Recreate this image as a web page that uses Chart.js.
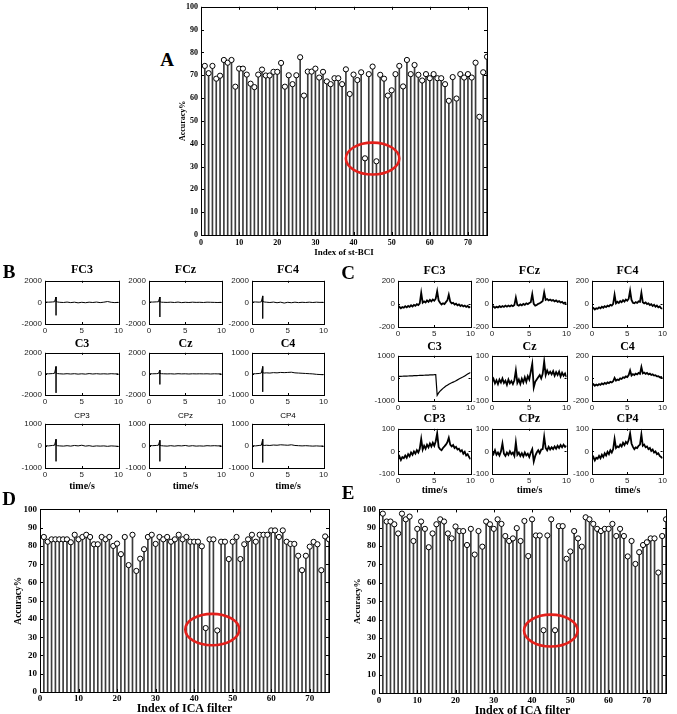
<!DOCTYPE html>
<html>
<head>
<meta charset="utf-8">
<script src="https://cdn.jsdelivr.net/npm/chart.js@4.4.0/dist/chart.umd.min.js"></script>
<style>
body { margin: 0; background: #fff; width: 677px; height: 714px; overflow: hidden; position: relative; }
canvas { position: absolute; }
.t { position: absolute; color: #000; white-space: nowrap; transform: translate(-50%, -50%); line-height: 1; }
</style>
</head>
<body>
<script>
// accuracy per index
const accA = [74.1,70.9,74.1,68.5,69.8,76.7,75.5,76.7,65.0,72.9,
  72.9,70.3,66.3,64.8,70.3,72.5,69.9,69.9,71.5,71.5,
  75.4,65.0,70.0,66.1,70.0,77.9,61.1,71.6,71.6,72.9,
  69.0,71.5,67.3,66.1,68.7,68.7,66.1,72.6,61.8,70.3,
  67.9,71.3,33.6,70.5,73.8,32.3,70.2,68.5,61.1,63.4,
  70.5,74.1,65.1,76.7,70.5,74.5,70.2,67.7,70.5,68.7,
  70.5,68.7,68.7,66.1,58.8,69.2,59.8,70.5,69.0,70.5,
  69.0,75.5,51.8,71.3,78.1];
const accD = [84.9,82.3,83.6,83.6,83.6,83.6,83.6,82.0,86.1,83.6,
  84.9,86.1,84.9,80.9,80.9,84.9,83.6,84.9,80.0,81.3,
  75.5,84.9,69.5,86.1,66.3,73.0,78.2,84.9,86.1,81.1,
  84.9,83.6,84.9,82.3,83.6,86.1,83.6,84.9,82.3,82.3,
  82.3,79.8,35.0,83.6,83.6,33.7,82.3,82.3,72.8,82.3,
  84.9,72.8,80.9,83.6,86.1,82.3,86.1,86.1,86.1,88.5,
  88.5,84.9,88.5,82.3,81.1,81.1,74.6,66.7,74.6,79.6,
  82.2,80.9,66.7,85.2,83.6];
const accE = [97.7,93.4,93.4,91.9,86.9,97.7,94.6,96.1,82.8,89.4,
  93.4,89.4,79.4,86.9,91.9,94.6,93.4,86.9,84.2,90.7,
  88.2,88.2,80.6,89.4,75.4,88.2,79.7,93.4,91.9,89.4,
  94.6,92.1,85.5,82.8,84.2,89.8,82.8,93.7,74.6,94.6,
  85.8,85.8,34.2,85.8,94.6,34.2,90.9,90.9,73.1,77.1,
  88.2,84.2,79.7,95.7,94.6,92.1,89.4,88.2,89.4,89.4,
  92.1,85.5,89.4,85.5,74.4,82.8,70.3,76.7,80.6,82.1,
  84.2,84.2,65.6,85.5,94.6];

// time axes (s)
const tB = [0,0.5,1,1.3,1.5,1.5,1.5,1.7,2,2.5,3,3.5,4,4.5,5,5.5,6,6.5,7,7.5,8,8.5,9,9.5,10];
const tC = [0,0.2,0.4,0.6,0.8,1,1.2,1.4,1.6,1.8,2,2.2,2.4,2.6,2.8,3,3.2,3.4,3.6,3.8,
  4,4.2,4.4,4.6,4.8,5,5.2,5.4,5.6,5.8,6,6.2,6.4,6.6,6.8,7,7.2,7.4,7.6,7.8,
  8,8.2,8.4,8.6,8.8,9,9.2,9.4,9.6,9.8,10];

const chans = ["FC3","FCz","FC4","C3","Cz","C4","CP3","CPz","CP4"];

// panel B: raw channels
const bFC3 = [30,20,40,60,500,-1200,80,40,10,-10,30,-20,20,-40,10,-30,20,-10,30,-20,20,80,10,-20,10];
const bFCz = [40,30,50,60,500,-1350,60,20,10,0,20,-10,30,-20,10,-10,20,0,10,-10,20,10,0,-10,10];
const bFC4 = [30,40,20,50,600,-1500,90,40,20,-10,30,-30,20,-60,10,-30,20,-20,10,-10,20,-10,20,0,10];
const bC3  = [20,10,30,60,700,-1800,90,30,10,-10,20,-10,20,-20,10,-20,30,-10,20,-10,10,-10,20,0,10];
const bCz  = [20,10,20,40,350,-1000,50,20,10,0,10,-10,20,0,10,-10,10,0,10,0,10,-10,10,0,10];
const bC4  = [0,10,20,40,350,-850,60,40,50,40,60,50,70,60,70,80,50,40,30,20,10,0,-20,-30,-40];
const bCP3 = [10,0,20,30,300,-700,40,10,0,-10,10,-10,20,0,30,-10,10,-20,0,-10,0,-20,0,-10,-20];
const bCPz = [20,10,20,30,250,-700,30,10,0,-10,10,-10,10,0,20,-10,10,-10,0,-10,10,0,10,0,10];
const bCP4 = [10,0,20,30,300,-750,40,20,30,20,40,30,50,40,30,50,20,10,0,10,0,-10,0,-10,0];
const limB = [2000,2000,2000,2000,2000,1000,1000,1000,1000];

// panel C: filtered channels
const cFC3 = [-35,-25,-38,-28,-33,-20,-30,-18,-26,-12,-22,-8,-16,-2,-10,5,95,10,22,12,30,18,35,22,38,28,45,110,30,10,-5,5,-2,15,30,80,20,5,10,-5,2,-12,-5,-18,-10,-22,-14,-26,-18,-30,-25];
const cFCz = [-30,-22,-34,-25,-30,-20,-28,-18,-26,-15,-24,-14,-22,-12,-20,-10,55,-8,-16,-4,-12,0,-8,5,-2,8,15,85,0,-15,-10,0,5,15,25,100,35,42,30,38,28,34,22,30,18,24,12,18,5,12,2];
const cFC4 = [-45,-35,-48,-38,-42,-30,-38,-25,-33,-20,-28,-15,-22,-8,-15,0,80,5,18,8,25,15,32,20,38,28,45,115,35,10,5,15,8,22,18,95,15,5,12,-2,5,-10,-2,-18,-8,-25,-15,-30,-22,-38,-40];
const cC3  = [85,88,92,95,98,101,104,107,110,113,116,119,122,125,128,131,134,137,140,143,146,149,152,156,160,164,170,-750,-640,-560,-500,-440,-390,-340,-300,-260,-225,-195,-165,-135,-100,-65,-30,5,40,70,110,150,190,230,265];
const cCz  = [-15,-2,-22,-8,-25,-5,-18,0,-20,-10,-28,-5,-22,-12,-25,-8,35,-20,-5,-25,-2,-18,5,-15,10,-5,30,65,-40,-15,-5,5,15,0,20,75,15,35,20,30,18,32,12,28,15,30,8,25,12,22,5];
const cC4  = [-60,-52,-65,-55,-62,-50,-58,-45,-52,-40,-48,-35,-42,-30,-36,-25,5,-20,-10,-15,0,-5,10,5,18,12,30,70,25,38,30,42,35,48,40,100,45,52,40,48,35,42,30,36,25,28,18,20,10,12,0];
const cCP3 = [-35,-22,-38,-25,-30,-18,-28,-12,-22,-5,-15,0,-10,5,-5,12,55,8,25,12,30,18,35,22,38,25,45,80,20,10,5,15,22,30,40,60,30,22,28,15,20,8,12,0,5,-10,-2,-18,-12,-25,-35];
const cCPz = [0,-12,5,-15,-5,-18,0,35,-10,-20,-5,-15,0,-12,-5,-20,40,-15,-5,-20,-8,-22,-5,-18,-10,-25,-5,10,-45,-20,-5,5,-8,8,10,65,15,5,20,8,18,10,22,12,25,15,28,18,30,20,25];
const cCP4 = [-35,-25,-40,-28,-32,-20,-30,-15,-25,-8,-18,-2,-12,5,-5,10,55,15,22,18,30,22,38,28,42,35,50,80,35,20,10,18,15,25,30,75,25,30,18,22,10,15,2,8,-5,0,-12,-8,-20,-25,-30];
const limC = [200,200,200,1000,100,200,100,100,100];

const tracesB = [bFC3,bFCz,bFC4,bC3,bCz,bC4,bCP3,bCPz,bCP4];
const tracesC = [cFC3,cFCz,cFC4,cC3,cCz,cC4,cCP3,cCPz,cCP4];

// matlab-ish box with inward ticks
const boxPlugin = {
  id: 'box',
  afterDatasetsDraw(chart, args, opts) {
    const { ctx, chartArea: a, scales } = chart;
    const len = opts.tick || 3;
    ctx.save();
    ctx.strokeStyle = '#000';
    ctx.lineWidth = 1;
    ctx.beginPath();
    scales.x.ticks.forEach(t => {
      const px = Math.round(scales.x.getPixelForValue(t.value)) + 0.5;
      ctx.moveTo(px, a.bottom); ctx.lineTo(px, a.bottom - len);
      ctx.moveTo(px, a.top); ctx.lineTo(px, a.top + len);
    });
    scales.y.ticks.forEach(t => {
      const py = Math.round(scales.y.getPixelForValue(t.value)) + 0.5;
      ctx.moveTo(a.left, py); ctx.lineTo(a.left + len, py);
      ctx.moveTo(a.right, py); ctx.lineTo(a.right - len, py);
    });
    ctx.stroke();
    ctx.strokeRect(Math.round(a.left) + 0.5, Math.round(a.top) + 0.5,
      Math.round(a.right - a.left), Math.round(a.bottom - a.top));
    ctx.restore();
  }
};

// red ring around the two outliers
const ringPlugin = {
  id: 'ring',
  afterDraw(chart, args, o) {
    if (!o || o.x === undefined) return;
    const { ctx, scales } = chart;
    const cx = scales.x.getPixelForValue(o.x), cy = scales.y.getPixelForValue(o.y);
    const rx = Math.abs(scales.x.getPixelForValue(o.x + o.rx) - cx);
    const ry = Math.abs(scales.y.getPixelForValue(o.y + o.ry) - cy);
    ctx.save();
    ctx.strokeStyle = '#e3211c';
    ctx.lineWidth = 2.6;
    ctx.beginPath();
    ctx.ellipse(cx, cy, rx, ry, 0, 0, Math.PI * 2);
    ctx.stroke();
    ctx.restore();
  }
};

function place(L, T, R, B, yw, xh, pt, pr) {
  const c = document.createElement('canvas');
  const left = L - yw, top = T - pt;
  c.width = R + pr - left;
  c.height = B + xh - top;
  c.style.left = left + 'px';
  c.style.top = top + 'px';
  document.body.appendChild(c);
  return c;
}

function txt(s, x, y, size, fam, weight) {
  const d = document.createElement('div');
  d.className = 't';
  d.textContent = s;
  d.style.left = x + 'px';
  d.style.top = y + 'px';
  d.style.fontSize = size + 'px';
  d.style.fontFamily = fam;
  d.style.fontWeight = weight;
  document.body.appendChild(d);
}

const serif = '"Liberation Serif", serif';
const sans = '"Liberation Sans", sans-serif';

function stem(g, acc, xTitle, ring) {
  const c = place(g.L, g.T, g.R, g.B, g.yw, g.xh, 6, 6);
  const pts = acc.map((v, i) => ({ x: i + 1, y: v }));
  new Chart(c, {
    type: 'bar',
    data: {
      datasets: [
        { type: 'line', data: pts, showLine: false, pointRadius: 2.6, pointBackgroundColor: '#fff',
          pointBorderColor: '#000', pointBorderWidth: 1, order: 0 },
        { type: 'bar', data: pts, barThickness: 1, backgroundColor: '#3c3c3c', borderWidth: 0, order: 1 }
      ]
    },
    options: {
      responsive: false, animation: false, devicePixelRatio: 1,
      layout: { padding: { left: 0, top: 6, right: 6, bottom: 0 } },
      plugins: { legend: { display: false }, tooltip: { enabled: false }, box: { tick: 3 }, ring: ring },
      scales: {
        x: {
          type: 'linear', min: 0, max: 75, offset: false,
          grid: { display: false, drawTicks: false, offset: false }, border: { display: false },
          ticks: { stepSize: 10, includeBounds: false, autoSkip: false, maxRotation: 0, padding: g.xp,
            color: '#000', font: { family: serif, size: g.fs, weight: 'bold' } },
          title: { display: true, text: xTitle, padding: 0, color: '#000',
            font: { family: serif, size: g.xts, weight: 'bold' } },
          afterFit: s => { s.height = g.xh; }
        },
        y: {
          min: 0, max: 100,
          grid: { display: false, drawTicks: false }, border: { display: false },
          ticks: { stepSize: 10, autoSkip: false, padding: 3, color: '#000',
            font: { family: serif, size: g.fs, weight: 'bold' } },
          title: { display: true, text: 'Accuracy%', padding: 0, color: '#000',
            font: { family: serif, size: g.yts, weight: 'bold' } },
          afterFit: s => { s.width = g.yw; }
        }
      }
    },
    plugins: [boxPlugin, ringPlugin]
  });
}

function trace(L, T, R, B, t, v, lim, lw) {
  const c = place(L, T, R, B, 30, 12, 6, 6);
  new Chart(c, {
    type: 'line',
    data: { datasets: [{ data: t.map((x, i) => ({ x: x, y: v[i] })), borderColor: '#000',
      borderWidth: lw, pointRadius: 0, tension: 0 }] },
    options: {
      responsive: false, animation: false, devicePixelRatio: 1,
      layout: { padding: { left: 0, top: 6, right: 6, bottom: 0 } },
      plugins: { legend: { display: false }, tooltip: { enabled: false }, box: { tick: 2 } },
      scales: {
        x: {
          type: 'linear', min: 0, max: 10,
          grid: { display: false, drawTicks: false }, border: { display: false },
          ticks: { stepSize: 5, includeBounds: false, autoSkip: false, maxRotation: 0, padding: 2,
            color: '#222', font: { family: sans, size: 8 } },
          afterFit: s => { s.height = 12; }
        },
        y: {
          min: -lim, max: lim,
          grid: { display: false, drawTicks: false }, border: { display: false },
          ticks: { stepSize: lim, autoSkip: false, padding: 3, color: '#222',
            font: { family: sans, size: 8 }, callback: val => String(val) },
          afterFit: s => { s.width = 30; }
        }
      }
    },
    plugins: [boxPlugin]
  });
}

// stem panels
stem({ L: 201, T: 5, R: 487, B: 235, yw: 23, xh: 23, fs: 8, xp: 3, xts: 9, yts: 8 },
  accA, 'Index of st-BCI', { x: 45, y: 33.5, rx: 7, ry: 7 });
stem({ L: 40, T: 507, R: 329, B: 692, yw: 27, xh: 24, fs: 9, xp: 1, xts: 12, yts: 9.5 },
  accD, 'Index of ICA filter', { x: 44.7, y: 34.2, rx: 7, ry: 8.6 });
stem({ L: 379, T: 507, R: 666, B: 693, yw: 27, xh: 25, fs: 9, xp: 2, xts: 12, yts: 9 },
  accE, 'Index of ICA filter', { x: 44.9, y: 34, rx: 7, ry: 8.7 });

// 3x3 grids
const colsB = [[45, 119], [149, 222], [252, 324]];
const rowsB = [[279, 324], [351, 395], [422, 468]];
const colsC = [[398, 471], [492, 567], [592, 663]];
const rowsC = [[279, 327], [354, 401], [427, 474]];
const titleYB = [269, 343, 416];
const titleYC = [270, 346, 418];

for (let i = 0; i < 9; i++) {
  const r = Math.floor(i / 3), k = i % 3;
  trace(colsB[k][0], rowsB[r][0], colsB[k][1], rowsB[r][1], tB, tracesB[i], limB[i], 1);
  trace(colsC[k][0], rowsC[r][0], colsC[k][1], rowsC[r][1], tC, tracesC[i], limC[i], i === 3 ? 1.2 : 1.8);
  const xb = (colsB[k][0] + colsB[k][1]) / 2, xc = (colsC[k][0] + colsC[k][1]) / 2;
  if (r === 2) {
    txt(chans[i], xb, titleYB[r], 8, sans, 'normal');
    txt('time/s', xb, 486, 10, serif, 'bold');
    txt('time/s', xc, 490, 10, serif, 'bold');
  } else {
    txt(chans[i], xb, titleYB[r], 12, serif, 'bold');
  }
  txt(chans[i], xc, titleYC[r], 12, serif, 'bold');
}

// panel letters
txt('A', 167, 59, 19, serif, 'bold');
txt('B', 9, 271, 19, serif, 'bold');
txt('C', 348, 272, 19, serif, 'bold');
txt('D', 9, 498, 19, serif, 'bold');
txt('E', 348, 492, 19, serif, 'bold');
</script>
</body>
</html>
